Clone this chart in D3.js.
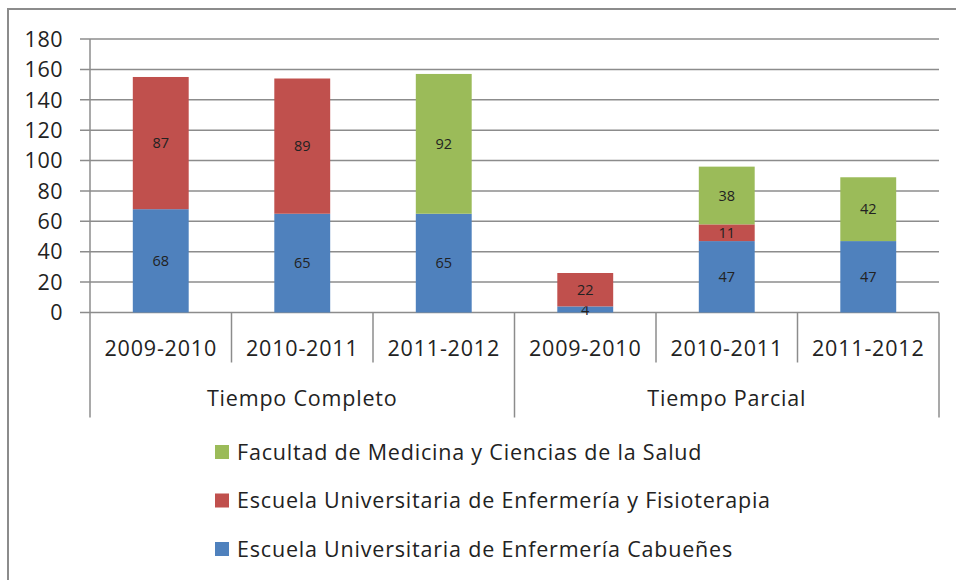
<!DOCTYPE html>
<html>
<head>
<meta charset="utf-8">
<script src="https://cdn.jsdelivr.net/npm/d3@7"></script>
<style>
  body { margin: 0; background: #fff; }
  text { font-family: "Open Sans", Lato, sans-serif; fill: #222; }
</style>
</head>
<body>
<svg id="chart"></svg>
<script>
// Data
const groups = ["Tiempo Completo", "Tiempo Parcial"];
const years = ["2009-2010", "2010-2011", "2011-2012"];
const series = [
  "Escuela Universitaria de Enfermería Cabueñes",
  "Escuela Universitaria de Enfermería y Fisioterapia",
  "Facultad de Medicina y Ciencias de la Salud"
];
const cabuenes = [68, 65, 65, 4, 47, 47];
const fisioterapia = [87, 89, 0, 22, 11, 0];
const medicina = [0, 0, 92, 0, 38, 42];
const yTicks = [0, 20, 40, 60, 80, 100, 120, 140, 160, 180];
const colours = ["#4F81BD", "#C0504D", "#9BBB59"];

const width = 956, height = 580;
const margin = { top: 39, right: 17, bottom: 267.5, left: 90 };
const innerW = width - margin.left - margin.right;
const innerH = height - margin.top - margin.bottom;

const rows = [];
groups.forEach((g, gi) => years.forEach((y, yi) => {
  const i = gi * years.length + yi;
  rows.push({ key: g + "|" + y, group: g, year: y, s0: cabuenes[i], s1: fisioterapia[i], s2: medicina[i] });
}));

const svg = d3.select("#chart").attr("width", width).attr("height", height);

// outer frame (runs past right and bottom edges)
svg.append("rect")
  .attr("x", 8).attr("y", 9).attr("width", 970).attr("height", 600)
  .attr("fill", "none").attr("stroke", "#8c8c8c").attr("stroke-width", 2);

const chart = svg.append("g").attr("transform", `translate(${margin.left},${margin.top})`);

const xScale = d3.scaleBand().domain(rows.map(d => d.key)).range([0, innerW]).paddingInner(0).paddingOuter(0);
const yScale = d3.scaleLinear().domain([0, 180]).range([innerH, 0]);

// gridlines + y tick marks
chart.append("g")
  .selectAll("line")
  .data(yTicks)
  .join("line")
  .attr("x1", -10).attr("x2", innerW)
  .attr("y1", d => yScale(d)).attr("y2", d => yScale(d))
  .attr("stroke", "#8c8c8c").attr("stroke-width", 1.5);

chart.append("g")
  .selectAll("text")
  .data(yTicks)
  .join("text")
  .attr("x", -27).attr("y", d => yScale(d))
  .attr("dy", "0.36em")
  .attr("text-anchor", "end")
  .style("font-size", "21.5px")
  .style("letter-spacing", "0.5px")
  .text(d => d);

// stacked bars
const keys = ["s0", "s1", "s2"];
const stacked = d3.stack().keys(keys)(rows);
const barW = xScale.bandwidth() * 0.395;
const layers = chart.selectAll(".layer")
  .data(stacked)
  .join("g")
  .attr("class", "layer")
  .attr("fill", (d, i) => colours[i]);

layers.selectAll("rect")
  .data(d => d.filter(p => p[1] - p[0] > 0))
  .join("rect")
  .attr("x", p => xScale(p.data.key) + (xScale.bandwidth() - barW) / 2)
  .attr("width", barW)
  .attr("y", p => yScale(p[1]))
  .attr("height", p => yScale(p[0]) - yScale(p[1]));

layers.selectAll("text")
  .data(d => d.filter(p => p[1] - p[0] > 0))
  .join("text")
  .attr("x", p => xScale(p.data.key) + xScale.bandwidth() / 2)
  .attr("y", p => (yScale(p[0]) + yScale(p[1])) / 2)
  .attr("dy", "0.36em")
  .attr("text-anchor", "middle")
  .style("font-size", "14.5px")
  .text(p => p[1] - p[0]);

// category axis: vertical axis line, separators, labels
const axisColour = "#8c8c8c";
const axisG = chart.append("g");
axisG.append("line")
  .attr("x1", 0).attr("x2", 0).attr("y1", 0).attr("y2", innerH + 105)
  .attr("stroke", axisColour).attr("stroke-width", 1.5);

rows.forEach((d, i) => {
  if (i === 0) return;
  const x = xScale(d.key);
  const groupStart = i % years.length === 0;
  axisG.append("line")
    .attr("x1", x).attr("x2", x)
    .attr("y1", innerH).attr("y2", innerH + (groupStart ? 105 : 50))
    .attr("stroke", axisColour).attr("stroke-width", 1.5);
});
axisG.append("line")
  .attr("x1", innerW).attr("x2", innerW)
  .attr("y1", innerH).attr("y2", innerH + 105)
  .attr("stroke", axisColour).attr("stroke-width", 1.5);

axisG.selectAll(".year-label")
  .data(rows)
  .join("text")
  .attr("class", "year-label")
  .attr("x", d => xScale(d.key) + xScale.bandwidth() / 2)
  .attr("y", innerH + 36)
  .attr("dy", "0.36em")
  .attr("text-anchor", "middle")
  .style("font-size", "21.5px")
  .style("letter-spacing", "0.8px")
  .text(d => d.year);

axisG.selectAll(".group-label")
  .data(groups)
  .join("text")
  .attr("class", "group-label")
  .attr("x", (g, gi) => xScale(rows[gi * 3].key) + xScale.bandwidth() * 1.5)
  .attr("y", innerH + 86)
  .attr("dy", "0.36em")
  .attr("text-anchor", "middle")
  .style("font-size", "21.5px")
  .style("letter-spacing", "0.8px")
  .text(g => g);

// legend (top to bottom: last series first)
const legendOrder = [2, 1, 0];
const legend = svg.append("g").attr("transform", "translate(215,452)");
legendOrder.forEach((si, row) => {
  const gRow = legend.append("g").attr("transform", `translate(0,${row * 48.5})`);
  gRow.append("rect")
    .attr("x", 0).attr("y", -7).attr("width", 14).attr("height", 14)
    .attr("fill", colours[si]);
  gRow.append("text")
    .attr("x", 22).attr("y", 0).attr("dy", "0.36em")
    .style("font-size", "21.5px")
    .style("letter-spacing", "0.8px")
    .text(series[si]);
});
</script>
</body>
</html>
